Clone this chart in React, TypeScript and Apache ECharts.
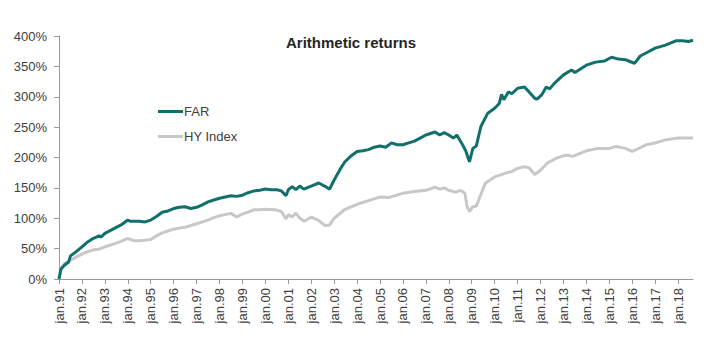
import React, { useEffect, useRef } from "react";
import * as echarts from "echarts";

// decimal-year sample points
const farYears = [
  1991.0, 1991.08, 1991.25, 1991.42, 1991.5, 1991.75, 1992.0, 1992.25, 1992.5, 1992.75, 1992.83,
  1993.0, 1993.25, 1993.5, 1993.75, 1994.0, 1994.12, 1994.25, 1994.5, 1994.75, 1995.0, 1995.25,
  1995.5, 1995.75, 1996.0, 1996.25, 1996.5, 1996.75, 1997.0, 1997.25, 1997.5, 1997.75, 1998.0,
  1998.25, 1998.5, 1998.75, 1999.0, 1999.25, 1999.5, 1999.75, 2000.0, 2000.25, 2000.5, 2000.7,
  2000.9, 2001.0, 2001.17, 2001.33, 2001.5, 2001.67, 2002.0, 2002.33, 2002.58, 2002.8, 2003.0,
  2003.25, 2003.47, 2003.75, 2004.0, 2004.25, 2004.5, 2004.75, 2005.0, 2005.25, 2005.5, 2005.75,
  2006.0, 2006.25, 2006.5, 2006.75, 2007.0, 2007.4, 2007.6, 2007.8, 2008.0, 2008.2, 2008.35,
  2008.6, 2008.75, 2008.9, 2009.05, 2009.2, 2009.4, 2009.7, 2010.0, 2010.2, 2010.3, 2010.4,
  2010.6, 2010.75, 2011.0, 2011.3, 2011.5, 2011.76, 2011.85, 2012.05, 2012.25, 2012.4, 2012.6,
  2013.0, 2013.35, 2013.5, 2014.0, 2014.4, 2014.8, 2015.1, 2015.4, 2015.7, 2015.9, 2016.1,
  2016.35, 2016.6, 2017.0, 2017.45, 2017.9, 2018.2, 2018.45, 2018.65,
];
const farValues = [
  0, 16, 23, 28, 38, 45, 53, 61, 67, 71, 69,
  75, 80, 85, 90, 97, 95, 95, 95, 94, 97, 103,
  110, 112, 116, 118, 119, 116, 118, 122, 127, 130, 133,
  135, 137, 136, 138, 142, 145, 146, 148, 147, 147, 145,
  137, 147, 152, 147, 153, 148, 153, 158, 153, 148, 163,
  180, 193, 203, 210, 211, 213, 217, 219, 217, 224, 221,
  221, 224, 227, 232, 237, 242, 237, 241, 237, 232, 237,
  221, 210, 193, 215, 219, 251, 273, 281, 289, 304, 295,
  308, 305, 314, 316, 308, 297, 296, 303, 316, 313, 322,
  336, 344, 340, 352, 357, 359, 365, 362, 361, 358, 355,
  367, 372, 380, 385, 392, 392, 391, 393,
];

const hyYears = [
  1991.0, 1991.1, 1991.25, 1991.5, 1991.75, 1992.0, 1992.25, 1992.5, 1992.75, 1993.0, 1993.25,
  1993.5, 1993.75, 1994.0, 1994.12, 1994.25, 1994.5, 1994.75, 1995.0, 1995.25, 1995.5, 1995.75,
  1996.0, 1996.25, 1996.5, 1996.75, 1997.0, 1997.25, 1997.5, 1997.75, 1998.0, 1998.25, 1998.5,
  1998.75, 1999.0, 1999.25, 1999.5, 1999.75, 2000.0, 2000.45, 2000.7, 2000.9, 2001.0, 2001.17,
  2001.33, 2001.5, 2001.7, 2002.0, 2002.3, 2002.6, 2002.8, 2003.0, 2003.45, 2004.0, 2004.5,
  2005.0, 2005.35, 2006.0, 2006.5, 2007.0, 2007.4, 2007.6, 2007.8, 2008.0, 2008.3, 2008.5,
  2008.7, 2008.8, 2008.9, 2009.05, 2009.2, 2009.35, 2009.6, 2010.0, 2010.45, 2010.75, 2011.0,
  2011.3, 2011.5, 2011.75, 2012.0, 2012.3, 2012.7, 2013.1, 2013.4, 2014.0, 2014.5, 2015.0,
  2015.3, 2015.7, 2016.0, 2016.3, 2016.6, 2017.0, 2017.45, 2018.0, 2018.65,
];
const hyValues = [
  0, 18, 26, 31, 36, 41, 45, 48, 49, 53, 56,
  59, 62.6, 67, 65, 63, 63, 64, 65, 71, 76, 79,
  82, 84, 85, 88, 91, 94, 97, 101, 104, 106, 108,
  102, 107, 110, 114, 114, 115, 114, 111, 99, 106, 102,
  108.6, 100, 95, 102, 97, 88, 89, 100, 114, 123, 129,
  135, 134, 141, 144, 146, 151, 148, 150, 146, 143, 146,
  141, 119, 111, 119, 120, 135, 158, 168, 174, 177, 182,
  185, 183, 172, 179, 191, 199, 204, 202, 211, 215, 215,
  218, 215, 210, 215, 221, 224, 229, 232, 232,
];

const tickYears = [
  1991, 1992, 1993, 1994, 1995, 1996, 1997, 1998, 1999, 2000, 2001, 2002, 2003, 2004,
  2005, 2006, 2007, 2008, 2009, 2010, 2011, 2012, 2013, 2014, 2015, 2016, 2017, 2018,
];

const titleText = "Arithmetic returns";
const seriesNames = ["FAR", "HY Index"];

export default function App() {
  const ref = useRef<HTMLDivElement>(null);
  useEffect(() => {
    if (!ref.current) return;
    const chart = echarts.init(ref.current, null, { renderer: "svg" });
    const font = "'Liberation Sans', Arial, sans-serif";
    const axisColor = "#9a9a9a";
    const textColor = "#404040";
    chart.setOption({
      animation: false,
      backgroundColor: "#ffffff",
      textStyle: { fontFamily: font },
      title: {
        text: titleText,
        left: 281,
        top: 30,
        textStyle: { fontFamily: font, fontSize: 15, fontWeight: "bold", color: "#262626" },
      },
      legend: {
        orient: "vertical",
        left: 153,
        top: 100,
        itemWidth: 25,
        itemHeight: 3,
        itemGap: 12,
        icon: "rect",
        textStyle: { fontFamily: font, fontSize: 13, color: textColor, padding: [0, 0, 0, -4] },
        data: seriesNames,
      },
      grid: { left: 59, right: 34, top: 36, bottom: 71, containLabel: false },
      xAxis: {
        type: "value",
        min: 1991,
        max: 2018.65,
        splitLine: { show: false },
        axisLine: { show: true, lineStyle: { color: axisColor, width: 1 } },
        axisTick: { show: true, length: 5, lineStyle: { color: axisColor }, customValues: tickYears },
        axisLabel: {
          customValues: tickYears,
          rotate: 90,
          margin: 9,
          fontFamily: font,
          fontSize: 13,
          color: textColor,
          formatter: (v: number) => "jan." + String(Math.round(v)).slice(2),
        },
      },
      yAxis: {
        type: "value",
        min: 0,
        max: 400,
        interval: 50,
        splitLine: { show: false },
        axisLine: { show: true, lineStyle: { color: axisColor, width: 1 } },
        axisTick: { show: true, length: 5, lineStyle: { color: axisColor } },
        axisLabel: { margin: 12, fontFamily: font, fontSize: 13, color: textColor, formatter: "{value}%" },
      },
      series: [
        {
          name: seriesNames[0],
          type: "line",
          data: farYears.map((y, i) => [y, farValues[i]]),
          showSymbol: false,
          symbol: "none",
          lineStyle: { color: "#11706c", width: 3 },
          itemStyle: { color: "#11706c" },
          z: 3,
        },
        {
          name: seriesNames[1],
          type: "line",
          data: hyYears.map((y, i) => [y, hyValues[i]]),
          showSymbol: false,
          symbol: "none",
          lineStyle: { color: "#c8c8c8", width: 3 },
          itemStyle: { color: "#c8c8c8" },
          z: 2,
        },
      ],
    });
    return () => chart.dispose();
  }, []);
  return (
    <div
      ref={ref}
      style={{ position: "absolute", left: 0, top: 0, width: 727, height: 350 }}
    />
  );
}
